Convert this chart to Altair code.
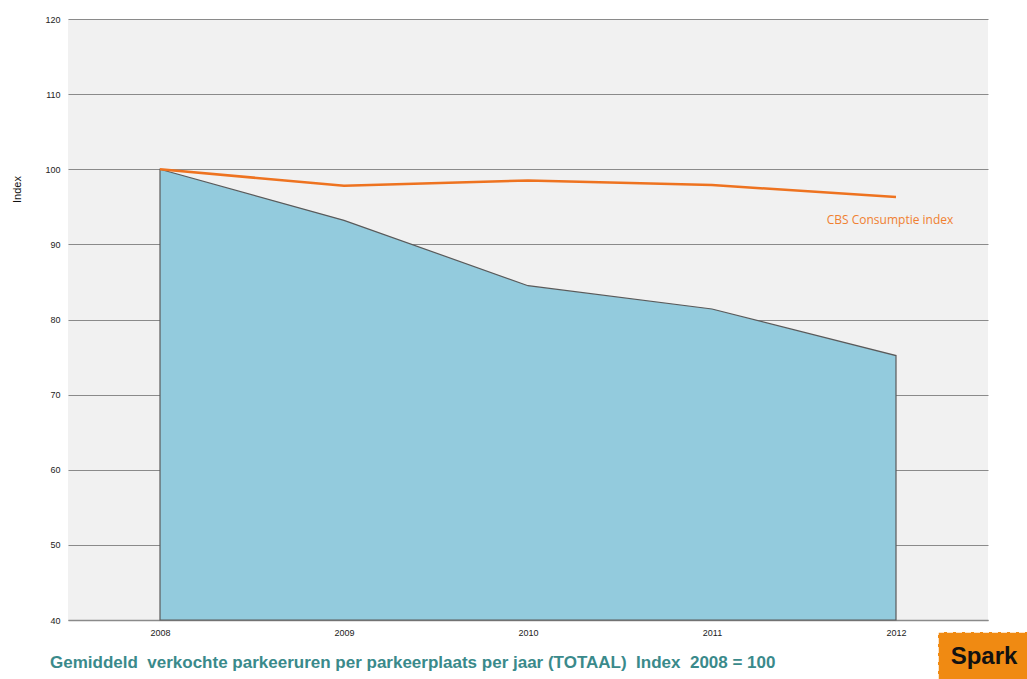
import altair as alt
import pandas as pd

years = ["2008", "2009", "2010", "2011", "2012"]
parkeer = [100, 93.2, 84.5, 81.4, 75.2]
cbs = [100, 97.8, 98.5, 97.9, 96.3]
y_ticks = [40, 50, 60, 70, 80, 90, 100, 110, 120]
y_base = 40
title_text = "Gemiddeld\u00a0 verkochte parkeeruren per parkeerplaats per jaar (TOTAAL)\u00a0 Index\u00a0 2008 = 100"

df = pd.DataFrame({"jaar": years, "parkeer": parkeer, "cbs": cbs})
label_df = pd.DataFrame({"jaar": [years[-1]], "cbs": [cbs[-1]], "label": ["CBS Consumptie index"]})
logo_df = pd.DataFrame({"t": ["Spark"]})
title_df = pd.DataFrame({"t": [title_text]})

x_enc = alt.X("jaar:N", sort=years,
              scale=alt.Scale(type="point", padding=0.5),
              axis=alt.Axis(title=None, labelAngle=0, labelFont="Liberation Sans", labelFontSize=9,
                            labelColor="#222", domainColor="#8a8a8a", domainWidth=1.5,
                            ticks=False, labelPadding=8, grid=False))
y_scale = alt.Scale(domain=[40, 120], nice=False, zero=False)
y_axis = alt.Axis(title="Index", values=y_ticks, labelFont="Liberation Sans", labelFontSize=9,
                  labelColor="#222", ticks=False, domain=False, labelPadding=8,
                  gridColor="#8a8a8a", gridWidth=1.2, titleFont="Liberation Sans",
                  titleFontSize=11, titleFontWeight="normal", titleColor="#111",
                  titleX=-46, titleY=170)

area = alt.Chart(df).mark_area(color="#93cbdd", stroke="#5a5a5a", strokeWidth=1.2, opacity=1).encode(
    x=x_enc,
    y=alt.Y("parkeer:Q", scale=y_scale, axis=y_axis),
    y2=alt.Y2(datum=y_base),
)
line = alt.Chart(df).mark_line(color="#ee7320", strokeWidth=2.5).encode(
    x=alt.X("jaar:N", sort=years),
    y=alt.Y("cbs:Q", scale=y_scale),
)
label = alt.Chart(label_df).mark_text(color="#f08030", font="Open Sans", fontSize=12,
                                      align="center", dx=-6, dy=23).encode(
    x=alt.X("jaar:N", sort=years), y=alt.Y("cbs:Q", scale=y_scale), text="label:N")

logo_bg = alt.Chart(logo_df).mark_rect(color="#f08a12", stroke="white", strokeDash=[6, 3],
                                       strokeWidth=1.5, clip=False).encode(
    x=alt.value(870), x2=alt.value(962), y=alt.value(613), y2=alt.value(662))
logo_txt = alt.Chart(logo_df).mark_text(font="Liberation Sans", fontWeight="bold", fontSize=24,
                                        color="#111", align="center", baseline="middle").encode(
    x=alt.value(916), y=alt.value(638), text="t:N")
title_mark = alt.Chart(title_df).mark_text(font="Liberation Sans", fontWeight="bold", fontSize=17,
                                           color="#3a8a8b", align="left", baseline="middle").encode(
    x=alt.value(-18), y=alt.value(644), text="t:N")

chart = alt.layer(area, line, label, logo_bg, logo_txt, title_mark).properties(
    width=920, height=601,
    background="white",
    autosize=alt.AutoSizeParams(type="none"),
    padding={"left": 68, "top": 19, "right": 39, "bottom": 59},
).configure_view(fill="#f1f1f1", stroke=None)

chart.save("out.html", embed_options={"renderer": "svg", "actions": False})
